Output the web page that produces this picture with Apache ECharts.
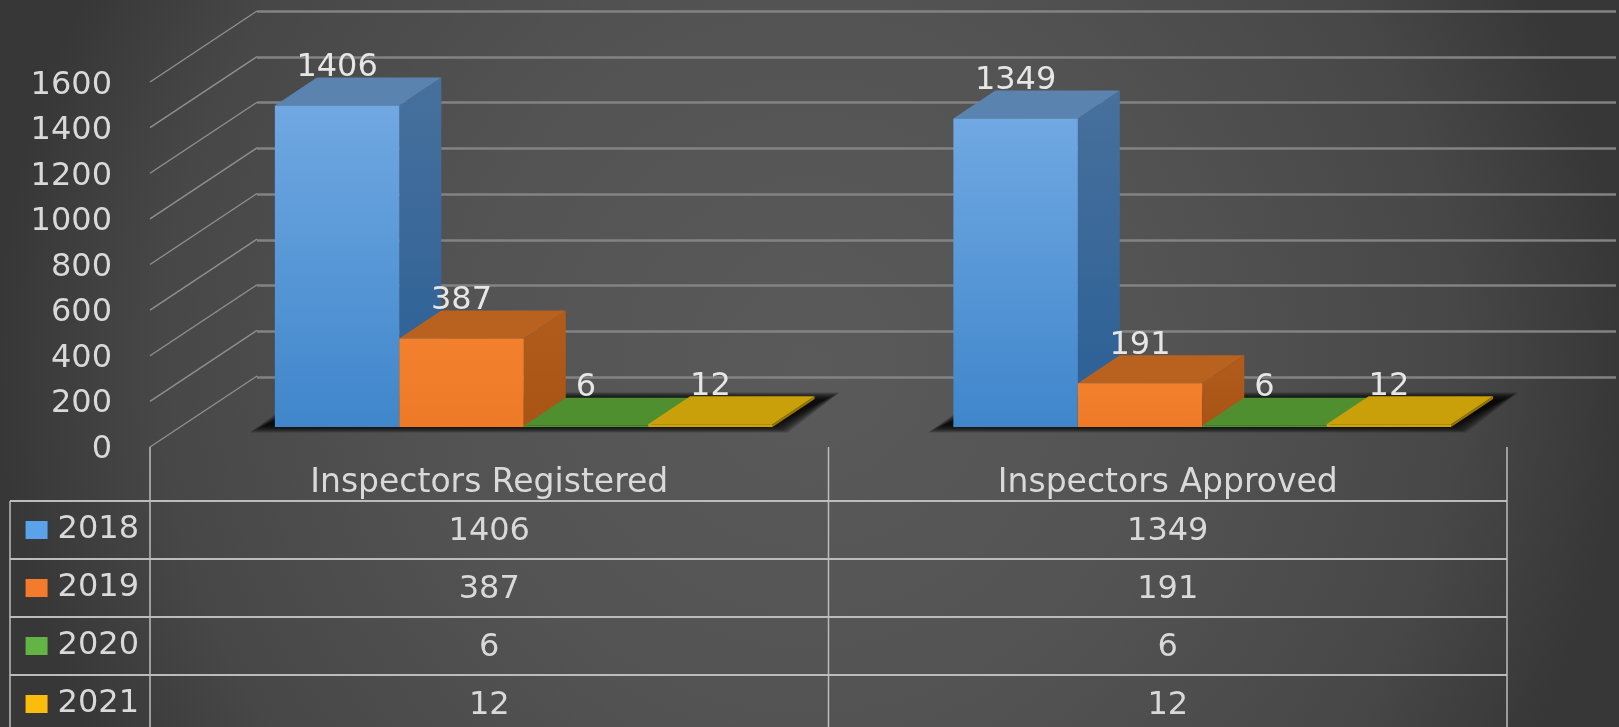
<!DOCTYPE html>
<html>
<head>
<meta charset="utf-8">
<style>html,body{margin:0;padding:0;background:#444;overflow:hidden}#c{width:1619px;height:727px}</style>
<script src="https://cdn.jsdelivr.net/npm/echarts@6/dist/echarts.min.js"></script>
</head>
<body>
<div id="c"></div>
<script>
const categories = ['Inspectors Registered', 'Inspectors Approved'];
const years = ['2018', '2019', '2020', '2021'];
const values2018 = [1406, 1349];
const values2019 = [387, 191];
const values2020 = [6, 6];
const values2021 = [12, 12];
const axisTicks = [0, 200, 400, 600, 800, 1000, 1200, 1400, 1600];
const seriesValues = [values2018, values2019, values2020, values2021];

const FONT = '"DejaVu Sans"';
const TEXT = '#d9d9d9';
const FS = 32;
const DEPTH_X = 42, DEPTH_Y = -28;
const WALL_X = 107, WALL_Y = -71;
const BAR_RATIO = 0.1834;
const SHADOW_STEPS = [11, 9, 7, 5, 3, 1, -1, -3];
const palette = [
  { key: '#5aa3ea', front: ['#70a8e2', '#3f86cb'], side: ['#47709c', '#2a5f96'], top: '#5a83b0' },
  { key: '#f47b2c', front: ['#f2802d', '#ee7a28'], side: ['#b25c1c', '#a85415'], top: '#b9611f' },
  { key: '#62b544', front: ['#5a9e36', '#4f8f2f'], side: ['#3f7526', '#3f7526'], top: '#4f8f2f' },
  { key: '#fbbd0c', front: ['#d8ab08', '#c9a00a'], side: ['#94750a', '#94750a'], top: '#c9a00a' }
];
const grad = c => new echarts.graphic.LinearGradient(0, 0, 0, 1, [{ offset: 0, color: c[0] }, { offset: 1, color: c[1] }]);

function barRender(si) {
  return function (params, api) {
    const cat = api.value(0), val = api.value(1);
    const band = api.size([1, 0])[0];
    const w = band * BAR_RATIO;
    const c = api.coord([cat, val]);
    const b = api.coord([cat, 0]);
    const x0 = c[0] + (si - 2) * w, x1 = x0 + w, yt = c[1], yb = b[1];
    const p = palette[si];
    return {
      type: 'group',
      children: [
        { type: 'polygon', shape: { points: [[x1, yt], [x1 + DEPTH_X, yt + DEPTH_Y], [x1 + DEPTH_X, yb + DEPTH_Y], [x1, yb]] }, style: { fill: grad(p.side) } },
        { type: 'polygon', shape: { points: [[x0, yt], [x0 + DEPTH_X, yt + DEPTH_Y], [x1 + DEPTH_X, yt + DEPTH_Y], [x1, yt]] }, style: { fill: p.top } },
        { type: 'rect', shape: { x: x0, y: yt, width: w, height: Math.max(yb - yt, 1) }, style: { fill: grad(p.front) } },
        { type: 'text', x: (x0 + x1) / 2, y: yt + DEPTH_Y - 10, style: { text: String(val), fill: '#e6e6e6', font: FS + 'px ' + FONT, align: 'center', verticalAlign: 'middle' } }
      ]
    };
  };
}

function floorRender(params, api) {
  const cat = api.value(0);
  const band = api.size([1, 0])[0];
  const w = band * BAR_RATIO;
  const b = api.coord([cat, 0]);
  const L = b[0] - 2 * w, R = b[0] + 2 * w, Y = b[1];
  return {
    type: 'group',
    children: SHADOW_STEPS.map(s => ({
      type: 'polygon',
      shape: { points: [[L - 14 - s, Y + s * 0.5], [R + 4 + s, Y + s * 0.5], [R + DEPTH_X + 14 + s, Y - 29 - s * 0.5], [L + DEPTH_X - s, Y - 29 - s * 0.5]] },
      style: { fill: 'rgba(0,0,0,0.2)' }
    }))
  };
}

function obliqueRender(params, api) {
  const p = api.coord([0, api.value(0)]);
  const x = params.coordSys.x;
  return {
    type: 'line',
    shape: { x1: x, y1: p[1], x2: x + WALL_X, y2: p[1] + WALL_Y },
    style: { stroke: '#8e8e8e', lineWidth: 1.5 }
  };
}

function tableLinesRender(params, api) {
  const cs = params.coordSys;
  const rowH = cs.height / years.length;
  const colW = cs.width / categories.length;
  const i = params.dataIndex;
  const stroke = '#bcbcbc';
  if (i <= years.length) {
    const y = cs.y + i * rowH;
    return { type: 'line', shape: { x1: 10, y1: y, x2: cs.x + cs.width, y2: y }, style: { stroke, lineWidth: 2 } };
  }
  if (i === years.length + 1) {
    return { type: 'line', shape: { x1: 10, y1: cs.y, x2: 10, y2: cs.y + cs.height }, style: { stroke, lineWidth: 1.5 } };
  }
  const k = i - years.length - 2;
  const x = cs.x + k * colW;
  return { type: 'line', shape: { x1: x, y1: cs.y - 54, x2: x, y2: cs.y + cs.height }, style: { stroke, lineWidth: 1.5 } };
}

function cellRender(params, api) {
  const p = api.coord([api.value(0), api.value(1)]);
  return {
    type: 'text', x: p[0], y: p[1] + 2,
    style: { text: String(api.value(2)), fill: TEXT, font: FS + 'px ' + FONT, align: 'center', verticalAlign: 'middle' }
  };
}

const cells = [];
seriesValues.forEach((vals, r) => vals.forEach((v, c) => cells.push([c, r, v])));

const rich = { t: { color: TEXT, fontFamily: FONT, fontSize: FS, padding: [0, 0, 0, 10] } };
years.forEach((y, i) => { rich['k' + y] = { width: 22, height: 18, backgroundColor: palette[i].key }; });

const chart = echarts.init(document.getElementById('c'), null, { renderer: 'canvas' });
chart.setOption({
  animation: false,
  backgroundColor: {
    type: 'radial', x: 0.5, y: 0.5, r: 1.12,
    colorStops: [{ offset: 0, color: '#5a5a5a' }, { offset: 0.45, color: '#535353' }, { offset: 0.8, color: '#474747' }, { offset: 1, color: '#373737' }]
  },
  grid: [
    { left: 257, right: 3, top: 11, height: 366 },
    { left: 150, width: 1357, top: 82, height: 365 },
    { left: 184.5, width: 1357, top: 61, height: 366 },
    { left: 150, width: 1357, top: 501, height: 232, outerBoundsMode: 'none' },
    { left: 150, width: 1357, top: 85.5, height: 364 }
  ],
  xAxis: [
    { gridIndex: 0, type: 'category', data: categories, show: false },
    { gridIndex: 1, type: 'category', data: categories, show: false },
    { gridIndex: 2, type: 'category', data: categories, show: false },
    {
      gridIndex: 3, type: 'category', data: categories, position: 'top',
      axisLine: { show: false }, axisTick: { show: false },
      axisLabel: { color: TEXT, fontFamily: FONT, fontSize: 33, margin: 1 }
    },
    { gridIndex: 4, type: 'category', data: categories, show: false }
  ],
  yAxis: [
    {
      gridIndex: 0, type: 'value', min: 0, max: 1600, interval: 200,
      axisLine: { show: false }, axisTick: { show: false }, axisLabel: { show: false },
      splitLine: { lineStyle: { color: '#838383', width: 2.5 } }
    },
    { gridIndex: 1, type: 'value', min: 0, max: 1600, interval: 200, show: false },
    { gridIndex: 2, type: 'value', min: 0, max: 1600, interval: 200, show: false },
    {
      gridIndex: 3, type: 'category', data: years, inverse: true,
      axisLine: { show: false }, axisTick: { show: false }, splitLine: { show: false },
      axisLabel: { margin: 11, formatter: v => '{k' + v + '|}{t|' + v + '}', rich }
    },
    {
      gridIndex: 4, type: 'value', min: 0, max: 1600, interval: 200,
      axisLine: { show: false }, axisTick: { show: false }, splitLine: { show: false },
      axisLabel: { color: TEXT, fontFamily: FONT, fontSize: FS, margin: 38, formatter: v => String(v) }
    }
  ],
  series: [
    { type: 'custom', xAxisIndex: 1, yAxisIndex: 1, data: axisTicks.map(v => [v]), encode: { y: 0 }, renderItem: obliqueRender },
    { type: 'custom', xAxisIndex: 2, yAxisIndex: 2, data: categories.map((c, i) => [i, 0]), renderItem: floorRender },
    ...seriesValues.map((vals, si) => ({
      type: 'custom', name: years[si], xAxisIndex: 2, yAxisIndex: 2,
      data: vals.map((v, i) => [i, v]), renderItem: barRender(si)
    })),
    {
      type: 'custom', xAxisIndex: 3, yAxisIndex: 3,
      data: Array.from({ length: years.length + 2 + categories.length + 1 }, (_, i) => [0, 0]),
      renderItem: tableLinesRender
    },
    { type: 'custom', xAxisIndex: 3, yAxisIndex: 3, data: cells, renderItem: cellRender }
  ]
});
</script>
</body>
</html>
